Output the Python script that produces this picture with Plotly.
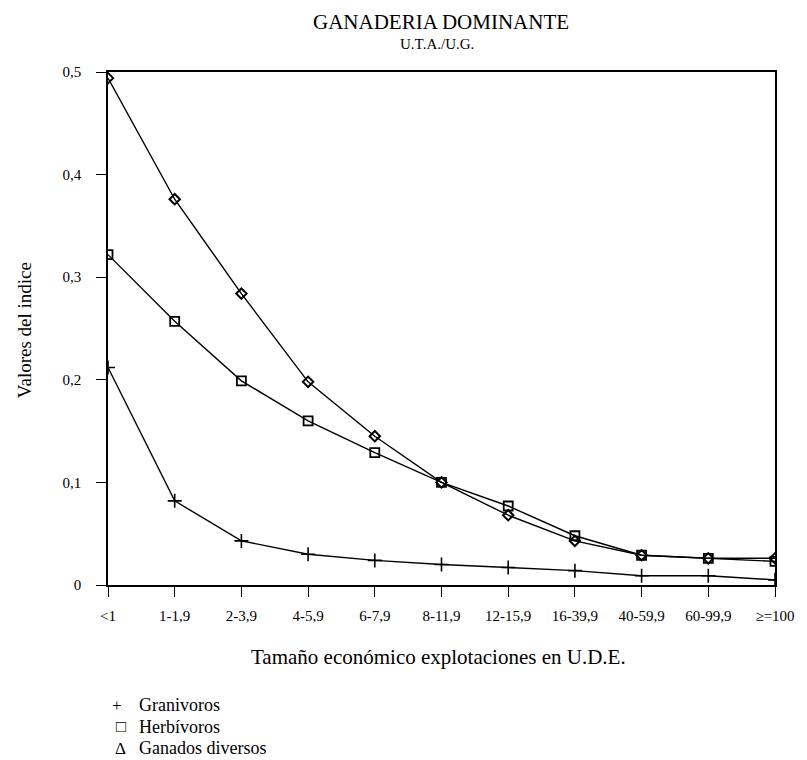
import plotly.graph_objects as go

categories = ["<1", "1-1,9", "2-3,9", "4-5,9", "6-7,9", "8-11,9", "12-15,9",
              "16-39,9", "40-59,9", "60-99,9", "≥=100"]
granivoros = [0.212, 0.082, 0.043, 0.030, 0.024, 0.020, 0.017, 0.014, 0.009, 0.009, 0.005]
herbivoros = [0.322, 0.257, 0.199, 0.160, 0.129, 0.100, 0.077, 0.048, 0.029, 0.026, 0.023]
diversos = [0.494, 0.376, 0.284, 0.198, 0.145, 0.100, 0.068, 0.043, 0.029, 0.026, 0.026]
y_tickvals = [0, 0.1, 0.2, 0.3, 0.4, 0.5]
y_ticktext = ["0", "0,1", "0,2", "0,3", "0,4", "0,5"]
legend_symbols = ["+", "□", "Δ"]
legend_names = ["Granivoros", "Herbívoros", "Ganados diversos"]

FONT = "Liberation Serif, Times New Roman, DejaVu Serif, serif"
x_idx = list(range(len(categories)))

fig = go.Figure()
fig.add_trace(go.Scatter(
    x=x_idx, y=granivoros, name=legend_names[0], mode="lines+markers",
    line=dict(color="black", width=1.4),
    marker=dict(symbol="cross-thin-open", size=10, color="black",
                line=dict(color="black", width=1.6)),
    showlegend=False))
fig.add_trace(go.Scatter(
    x=x_idx, y=herbivoros, name=legend_names[1], mode="lines+markers",
    line=dict(color="black", width=1.4),
    marker=dict(symbol="square-open", size=9, color="black",
                line=dict(color="black", width=1.8)),
    showlegend=False))
fig.add_trace(go.Scatter(
    x=x_idx, y=diversos, name=legend_names[2], mode="lines+markers",
    line=dict(color="black", width=1.4),
    marker=dict(symbol="diamond-open", size=8, color="black",
                line=dict(color="black", width=2)),
    showlegend=False))

# page body has an 8px margin: figure is 8px smaller and offset accordingly
fig.update_layout(
    width=799, height=752,
    margin=dict(l=100, r=23, t=64, b=175),
    paper_bgcolor="white", plot_bgcolor="white",
    font=dict(family=FONT, color="black"),
    showlegend=False,
)
fig.update_xaxes(
    range=[0, 10], tickmode="array", tickvals=x_idx, ticktext=categories,
    showgrid=False, zeroline=False, showline=True, linecolor="black",
    linewidth=1.6, mirror=True, ticks="outside", ticklen=10, tickwidth=1.4,
    tickcolor="black", tickfont=dict(family=FONT, size=15, color="black"),
    ticklabelstandoff=6,
)
fig.update_yaxes(
    range=[0, 0.5], tickmode="array", tickvals=y_tickvals, ticktext=y_ticktext,
    showgrid=False, zeroline=False, showline=True, linecolor="black",
    linewidth=1.6, mirror=True, ticks="outside", ticklen=10, tickwidth=1.4,
    tickcolor="black", tickfont=dict(family=FONT, size=15, color="black"),
    ticklabelstandoff=12,
)

# helpers converting screen pixel positions (reference) to paper coords
def px_x(px):
    return (px - 108) / 676.0

def px_y(py):
    return (585 - py) / 513.0

ann = [
    dict(text="GANADERIA DOMINANTE", x=px_x(445), y=px_y(22), size=21),
    dict(text="U.T.A./U.G.", x=px_x(441), y=px_y(44), size=15),
    dict(text="Tamaño económico explotaciones en U.D.E.", x=px_x(443), y=px_y(657), size=21),
]
for a in ann:
    fig.add_annotation(text=a["text"], x=a["x"], y=a["y"], xref="paper", yref="paper",
                       showarrow=False, xanchor="center", yanchor="middle",
                       font=dict(family=FONT, size=a["size"], color="black"))
fig.add_annotation(text="Valores del indice", x=px_x(23), y=px_y(330), xref="paper",
                   yref="paper", showarrow=False, textangle=-90, xanchor="center",
                   yanchor="middle", font=dict(family=FONT, size=19, color="black"))

legend_rows = [705, 727, 748]
legend_sym_x = [117, 121, 121]
for sym, name, py, sx in zip(legend_symbols, legend_names, legend_rows, legend_sym_x):
    fig.add_annotation(text=sym, x=px_x(sx), y=px_y(py), xref="paper", yref="paper",
                       showarrow=False, xanchor="center", yanchor="middle",
                       font=dict(family=FONT, size=17, color="black"))
    fig.add_annotation(text=name, x=px_x(137), y=px_y(py), xref="paper", yref="paper",
                       showarrow=False, xanchor="left", yanchor="middle",
                       font=dict(family=FONT, size=18, color="black"))

fig.write_html("out.html")
